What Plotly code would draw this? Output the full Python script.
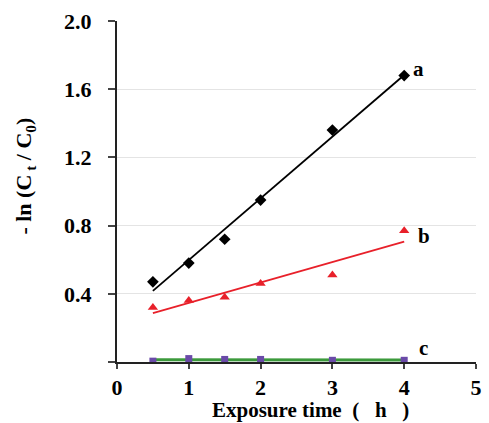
import numpy as np
import plotly.graph_objects as go

time_h = [0.5, 1, 1.5, 2, 3, 4]
series_a = [0.47, 0.58, 0.72, 0.95, 1.36, 1.68]
series_b = [0.32, 0.36, 0.38, 0.46, 0.51, 0.77]
series_c = [0.005, 0.02, 0.015, 0.015, 0.01, 0.01]
y_ticks = [0, 0.4, 0.8, 1.2, 1.6, 2.0]
y_ticktext = ["", "0.4", "0.8", "1.2", "1.6", "2.0"]
x_ticks = [0, 1, 2, 3, 4, 5]
labels = ["a", "b", "c"]
label_pos = [(4.2, 1.72), (4.28, 0.74), (4.27, 0.08)]
x_title = "Exposure time&nbsp;&nbsp;(&nbsp;&nbsp;&nbsp;h&nbsp;&nbsp;&nbsp;)"
y_title = "- ln (C<sub>&nbsp;t</sub> / C<sub>0</sub>)"

FONT = "Liberation Serif, Times New Roman, serif"

fig = go.Figure()

series = [
    (series_a, "black", "black", "diamond", 9),
    (series_b, "#e8202a", "#e8202a", "triangle-up", 9),
    (series_c, "#6a4aa8", "#3c9a3c", "square", 7),
]
xs = np.array(time_h)
for ys, mcol, lcol, sym, sz in series:
    k, b = np.polyfit(xs, np.array(ys), 1)
    fx = [xs.min(), xs.max()]
    fy = [k * v + b for v in fx]
    fig.add_trace(go.Scatter(x=fx, y=fy, mode="lines",
                             line=dict(color=lcol, width=3 if lcol == "#3c9a3c" else 1.8),
                             showlegend=False, hoverinfo="skip"))
    fig.add_trace(go.Scatter(x=time_h, y=ys, mode="markers",
                             marker=dict(symbol=sym, size=sz, color=mcol),
                             showlegend=False))

for lab, (lx, ly) in zip(labels, label_pos):
    fig.add_annotation(x=lx, y=ly, text=lab, showarrow=False,
                       font=dict(family=FONT, size=21, color="black", weight="bold"))

# axis titles placed as paper annotations (off-centre as in the reference)
fig.add_annotation(x=0.54, y=-0.141, xref="paper", yref="paper", text=x_title,
                   showarrow=False, xanchor="center", yanchor="middle",
                   font=dict(family=FONT, size=21, weight="bold", color="black"))
fig.add_annotation(x=-0.255, y=0.545, xref="paper", yref="paper", text=y_title,
                   showarrow=False, xanchor="center", yanchor="middle", textangle=-90,
                   font=dict(family=FONT, size=22, weight="bold", color="black"))

fig.update_layout(
    width=489, height=423,
    margin=dict(l=117, r=7, t=21, b=61),
    plot_bgcolor="white", paper_bgcolor="white",
    font=dict(family=FONT, color="black"),
)
fig.update_xaxes(
    range=[0, 5], tickvals=x_ticks, ticks="outside", ticklen=5, tickwidth=1.5,
    showline=True, linecolor="#222", linewidth=2, showgrid=False, zeroline=False,
    tickfont=dict(family=FONT, size=22, weight="bold"),
)
fig.update_yaxes(
    range=[0, 2.0], tickvals=y_ticks, ticktext=y_ticktext, ticks="outside", ticklen=7,
    tickwidth=1.5, showline=True, linecolor="#222", linewidth=2,
    showgrid=True, gridcolor="#e4e4e4", gridwidth=1, zeroline=False,
    ticklabelstandoff=12,
    tickfont=dict(family=FONT, size=22, weight="bold"),
)

fig.write_html("out.html", config={"displayModeBar": False},
               post_script="document.body.style.margin='0';document.body.style.overflow='hidden';")
